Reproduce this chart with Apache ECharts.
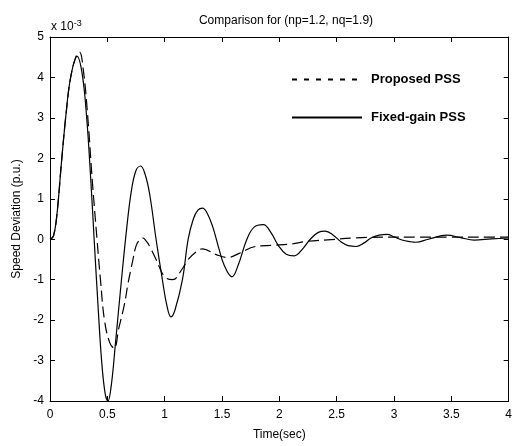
<!DOCTYPE html>
<html>
<head>
<meta charset="utf-8">
<script src="https://cdn.jsdelivr.net/npm/echarts@6/dist/echarts.min.js"></script>
<style>
  html, body { margin: 0; padding: 0; background: #fff; }
  #chart { width: 515px; height: 446px; }
</style>
</head>
<body>
<div id="chart"></div>
<script>
// time (sec) and speed deviation (x 10^-3 p.u.)
const fixedT = [0, 0.03, 0.06, 0.1, 0.14, 0.18, 0.236, 0.28, 0.32, 0.355, 0.385, 0.42, 0.45, 0.48, 0.505,
  0.535, 0.57, 0.62, 0.67, 0.71, 0.75, 0.79, 0.83, 0.87, 0.925, 0.98, 1.02, 1.055, 1.09, 1.155, 1.205,
  1.25, 1.29, 1.33, 1.37, 1.42, 1.47, 1.52, 1.587, 1.64, 1.717, 1.78, 1.86, 1.93, 1.99, 2.06, 2.13,
  2.2, 2.27, 2.34, 2.4, 2.47, 2.54, 2.6, 2.67, 2.74, 2.8, 2.87, 2.94, 3.0, 3.07, 3.14, 3.19, 3.3,
  3.46, 3.58, 3.7, 3.85, 4.0]
const fixedV = [0, 0.08, 0.6, 1.9, 3.1, 4.0, 4.52, 4.1, 3.0, 1.5, 0, -1.7, -3.0, -3.8, -4.0,
  -3.6, -2.6, -1.1, 0.3, 1.2, 1.7, 1.81, 1.6, 1.1, 0, -1.0, -1.65, -1.92, -1.75, -1.0, 0,
  0.5, 0.72, 0.77, 0.65, 0.3, -0.2, -0.65, -0.93, -0.65, 0, 0.3, 0.36, 0.15, -0.15, -0.37, -0.41,
  -0.25, 0, 0.17, 0.2, 0.1, -0.07, -0.16, -0.18, -0.09, 0.03, 0.1, 0.12, 0.06, -0.02, -0.06, -0.075, 0,
  0.1, 0.04, -0.02, 0.01, 0.03]

const propT = [0, 0.03, 0.06, 0.1, 0.14, 0.18, 0.225, 0.257, 0.29, 0.33, 0.37, 0.41, 0.44, 0.475, 0.52,
  0.56, 0.6, 0.65, 0.68, 0.72, 0.75, 0.78, 0.81, 0.84, 0.87, 0.92, 1.0, 1.07, 1.154, 1.2, 1.27, 1.33,
  1.45, 1.55, 1.65, 1.79, 1.95, 2.1, 2.25, 2.45, 2.65, 2.9, 3.2, 3.5, 3.8, 4.0]
const propV = [0, 0.08, 0.6, 1.9, 3.1, 4.0, 4.5, 4.63, 4.2, 3.0, 1.4, 0, -1.0, -2.0, -2.55,
  -2.7, -2.2, -1.6, -1.1, -0.55, -0.17, -0.02, 0.03, -0.05, -0.18, -0.47, -0.93, -1.0, -0.73, -0.52, -0.32, -0.24,
  -0.38, -0.45, -0.35, -0.18, -0.15, -0.12, -0.05, -0.01, 0.03, 0.05, 0.05, 0.05, 0.05, 0.05]

const xTicks = [0, 0.5, 1, 1.5, 2, 2.5, 3, 3.5, 4]
const yTicks = [-4, -3, -2, -1, 0, 1, 2, 3, 4, 5]

const pair = (ts, vs) => ts.map((t, i) => [t, vs[i]])

const chart = echarts.init(document.getElementById('chart'))
const font = 'Liberation Sans, Arial, sans-serif'
const axisLine = { show: true, onZero: false, lineStyle: { color: '#000', width: 1 } }
const tick = { show: true, inside: true, length: 5, lineStyle: { color: '#000' } }

const option = {
  animation: false,
  title: {
    text: 'Comparison for (np=1.2, nq=1.9)',
    left: 281, top: 10, textAlign: 'center',
    textStyle: { fontFamily: font, fontSize: 12, fontWeight: 'normal', color: '#000' }
  },
  legend: {
    orient: 'vertical',
    left: 291, top: 73, padding: 0,
    itemWidth: 70, itemHeight: 10, itemGap: 25,
    itemStyle: { opacity: 0 },
    textStyle: { fontFamily: font, fontSize: 13, fontWeight: 'bold', color: '#000', padding: [0, 0, 0, 4] },
    data: [
      { name: 'Proposed PSS', lineStyle: { type: [5, 7], width: 2 } },
      { name: 'Fixed-gain PSS', lineStyle: { width: 2 } }
    ]
  },
  grid: { left: 50, right: 3, top: 37, bottom: 43 },
  xAxis: [{
    type: 'value', min: 0, max: 4, interval: 0.5,
    name: 'Time(sec)', nameLocation: 'middle', nameGap: 28,
    nameTextStyle: { fontFamily: font, fontSize: 12, color: '#000' },
    axisLine, axisTick: tick, splitLine: { show: false },
    axisLabel: { fontFamily: font, fontSize: 12, color: '#000', margin: 8,
      formatter: v => xTicks.includes(v) ? String(v) : '' }
  }, {
    type: 'value', min: 0, max: 4, interval: 0.5, position: 'top',
    axisLine, axisTick: tick, axisLabel: { show: false }, splitLine: { show: false }
  }],
  yAxis: [{
    type: 'value', min: -4, max: 5, interval: 1,
    name: 'Speed Deviation (p.u.)', nameLocation: 'middle', nameGap: 27,
    nameTextStyle: { fontFamily: font, fontSize: 12, color: '#000' },
    axisLine, axisTick: tick, splitLine: { show: false },
    axisLabel: { fontFamily: font, fontSize: 12, color: '#000', margin: 6,
      formatter: v => yTicks.includes(v) ? String(v) : '' }
  }, {
    type: 'value', min: -4, max: 5, interval: 1, position: 'right',
    axisLine, axisTick: tick, axisLabel: { show: false }, splitLine: { show: false }
  }],
  graphic: [{
    type: 'text', left: 51, top: 19,
    style: {
      text: 'x 10{s|-3}', fontFamily: font, fontSize: 12, fill: '#000',
      rich: { s: { fontFamily: font, fontSize: 9, fill: '#000', verticalAlign: 'top', padding: [0, 0, 6, 0] } }
    }
  }],
  series: [{
    name: 'Proposed PSS', type: 'line', data: pair(propT, propV),
    smooth: 0.4, symbol: 'none', color: '#000',
    lineStyle: { color: '#000', width: 1.2, type: [11, 5] }
  }, {
    name: 'Fixed-gain PSS', type: 'line', data: pair(fixedT, fixedV),
    smooth: 0.4, symbol: 'none', color: '#000',
    lineStyle: { color: '#000', width: 1.2 }
  }]
}
chart.setOption(option)
</script>
</body>
</html>
